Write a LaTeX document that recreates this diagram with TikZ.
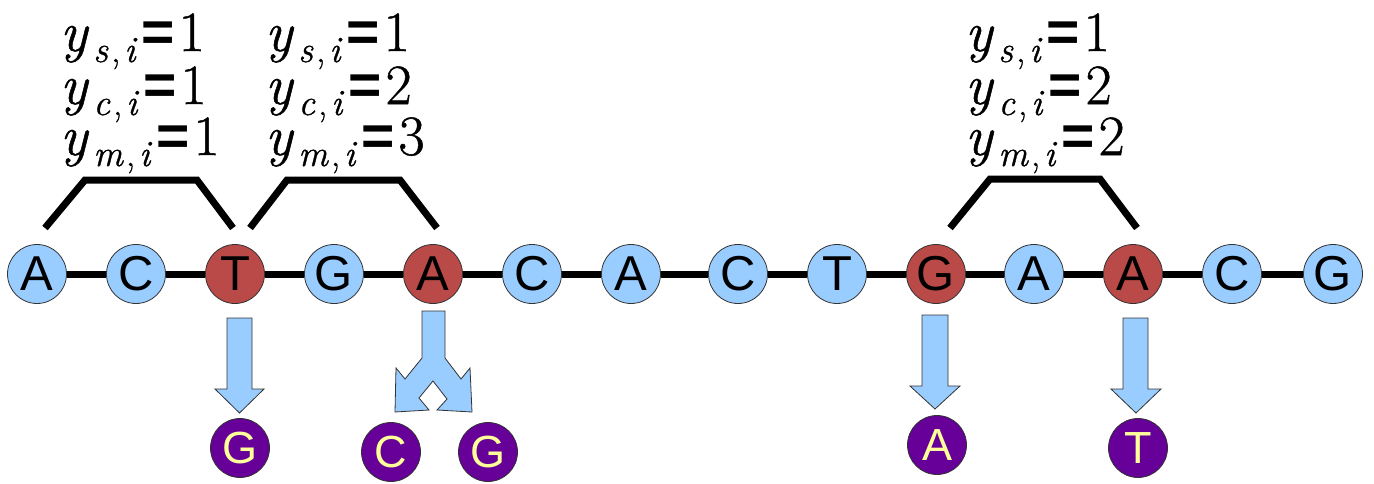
\documentclass[tikz,border=0pt]{standalone}
\usepackage{fontspec}
\setsansfont{Liberation Sans}
\newfontfamily\eqsans{Liberation Sans}
\newfontfamily\eqserif{Latin Modern Roman}[FakeBold=0.9,ItalicFeatures={FakeBold=0.9}]
\definecolor{nblue}{RGB}{153,204,255}
\definecolor{nred}{RGB}{185,74,72}
\definecolor{npurple}{RGB}{102,0,153}
\definecolor{nyellow}{RGB}{255,255,153}
\newcommand{\yeq}[2]{{\itshape y}\kern6pt\raisebox{-11pt}[0pt][0pt]{\fontsize{37}{37}\selectfont{\itshape #1}\kern3pt,\kern4pt{\itshape i}}\kern6pt{\eqsans\bfseries =}\kern4pt#2}
\tikzset{
  base/.style={circle,draw=black!80,line width=0.8pt,minimum size=59pt,inner sep=0pt,font=\eqsans\fontsize{49}{49}\selectfont},
  bluenode/.style={base,fill=nblue},
  rednode/.style={base,fill=nred},
  mutnode/.style={base,fill=npurple,text=nyellow,font=\eqsans\fontsize{45}{45}\selectfont},
  backbone/.style={line width=7pt},
  bracket/.style={line width=7pt},
  blockarrow/.style={fill=nblue,draw=black!80,line width=0.8pt,line join=miter},
  eqn/.style={anchor=base west,inner sep=0pt,font=\eqserif\fontsize{57}{57}\selectfont}
}
\begin{document}
\begin{tikzpicture}[x=1pt,y=-1pt]
\useasboundingbox (0,0) rectangle (1374,483);
% sequence
\node[bluenode] (n1) at (37,274) {A};
\node[bluenode] (n2) at (136,274) {C};
\node[rednode] (n3) at (235,274) {T};
\node[bluenode] (n4) at (334,274) {G};
\node[rednode] (n5) at (433,274) {A};
\node[bluenode] (n6) at (532,274) {C};
\node[bluenode] (n7) at (631,274) {A};
\node[bluenode] (n8) at (738,274) {C};
\node[bluenode] (n9) at (837,274) {T};
\node[rednode] (n10) at (936,274) {G};
\node[bluenode] (n11) at (1034,274) {A};
\node[rednode] (n12) at (1133,274) {A};
\node[bluenode] (n13) at (1232,274) {C};
\node[bluenode] (n14) at (1333,274) {G};
\foreach \a/\b in {n1/n2,n2/n3,n3/n4,n4/n5,n5/n6,n6/n7,n7/n8,n8/n9,n9/n10,n10/n11,n11/n12,n12/n13,n13/n14}
  \draw[backbone] (\a) -- (\b);
% mutated bases
\node[mutnode] (m1) at (240,448) {G};
\node[mutnode] (m2) at (391,452) {C};
\node[mutnode] (m3) at (488,452) {G};
\node[mutnode] (m4) at (937,445) {A};
\node[mutnode] (m5) at (1138,448) {T};
% block arrows
\draw[blockarrow] (227,318) -- (252,318) -- (252,389) -- (264,389) -- (239.5,413) -- (215,389) -- (227,389) -- cycle;
\draw[blockarrow] (922,315) -- (948,315) -- (948,386) -- (960,386) -- (935,409) -- (910,386) -- (922,386) -- cycle;
\draw[blockarrow] (1123,318) -- (1148,318) -- (1148,389) -- (1161,389) -- (1136,413) -- (1111,389) -- (1123,389) -- cycle;
\draw[blockarrow] (422,311) -- (445,311) -- (445,358) -- (461,379) -- (470,368) -- (472,412) -- (437,410) -- (447,399) -- (433,381) -- (419,398) -- (429,410) -- (395,412) -- (396,368) -- (405,379) -- (422,358) -- cycle;
% brackets
\draw[bracket] (45,228) -- (85,180) -- (197,180) -- (233,228);
\draw[bracket] (250,228) -- (287,180) -- (400,180) -- (437,228);
\draw[bracket] (950,228) -- (990,179) -- (1100,179) -- (1137,228);
% equations
\node[eqn] (e11) at (60,51) {\yeq{s}{1}};
\node[eqn] (e12) at (60,104) {\yeq{c}{1}};
\node[eqn] (e13) at (60,155) {\yeq{m}{1}};
\node[eqn] (e21) at (265,51) {\yeq{s}{1}};
\node[eqn] (e22) at (265,104) {\yeq{c}{2}};
\node[eqn] (e23) at (265,155) {\yeq{m}{3}};
\node[eqn] (e31) at (965,51) {\yeq{s}{1}};
\node[eqn] (e32) at (965,104) {\yeq{c}{2}};
\node[eqn] (e33) at (965,155) {\yeq{m}{2}};
\end{tikzpicture}
\end{document}
